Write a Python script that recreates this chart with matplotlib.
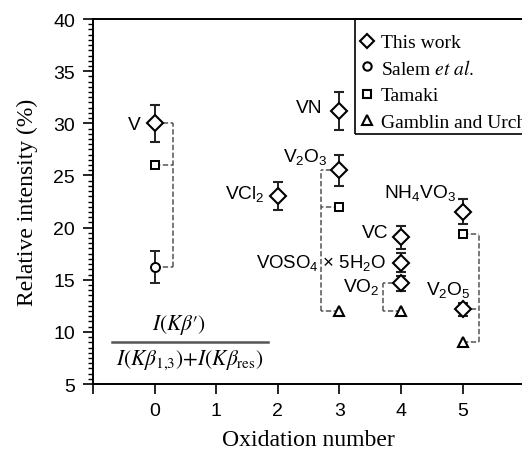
import matplotlib
matplotlib.use("Agg")
import matplotlib.pyplot as plt
from matplotlib.ticker import MultipleLocator, FixedLocator

# This work: measured relative intensities by oxidation number
tw_ox = [0, 2, 3, 3, 4, 4, 4, 5, 5]
tw_val = [30.0, 23.05, 31.2, 25.5, 19.05, 16.65, 14.65, 21.5, 12.15]
tw_err = [1.8, 1.35, 1.85, 1.5, 1.1, 0.95, 0.75, 1.2, 0.65]
tw_names = ["V", r"VCl$_2$", "VN", r"V$_2$O$_3$", "VC",
            r"VOSO$_4$ × 5H$_2$O", r"VO$_2$", r"NH$_4$VO$_3$", r"V$_2$O$_5$"]

# Literature values
salem_ox = [0]
salem_val = [16.25]
salem_err = [1.55]
tamaki_ox = [0, 3, 5]
tamaki_val = [26.0, 22.0, 19.4]
gamblin_ox = [3, 4, 5]
gamblin_val = [12.0, 12.0, 9.0]

x_ticks = [-1, 0, 1, 2, 3, 4, 5]
x_ticklabels = ["", "0", "1", "2", "3", "4", "5"]

plt.rcParams["font.family"] = "Liberation Sans"
plt.rcParams["mathtext.fontset"] = "custom"
plt.rcParams["mathtext.rm"] = "Liberation Sans"
plt.rcParams["mathtext.it"] = "Liberation Sans:italic"
plt.rcParams["mathtext.bf"] = "Liberation Sans:bold"

fig = plt.figure(figsize=(5.22, 4.52), dpi=100)
ax = fig.add_axes([0.1782, 0.1482, 0.8262, 0.8075])

ax.set_xlim(-1, 6)
ax.set_ylim(5, 40)

# dashed brackets linking a compound's value across data sets
dash = dict(color="#555555", lw=1.1, ls=(0, (3.5, 1.6)), zorder=1)


def bracket(xb, pts):
    ys = [p[1] for p in pts]
    ax.plot([xb, xb], [min(ys), max(ys)], **dash)
    for px, py in pts:
        ax.plot([px, xb], [py, py], **dash)


bracket(0.3, [(tw_ox[0], tw_val[0]), (tamaki_ox[0], tamaki_val[0]),
              (salem_ox[0], salem_val[0])])
bracket(2.7, [(tw_ox[3], tw_val[3]), (tamaki_ox[1], tamaki_val[1]),
              (gamblin_ox[0], gamblin_val[0])])
bracket(3.7, [(tw_ox[6], tw_val[6]), (gamblin_ox[1], gamblin_val[1])])
bracket(5.27, [(tamaki_ox[2], tamaki_val[2]), (tw_ox[8], tw_val[8]),
               (gamblin_ox[2], gamblin_val[2])])

ebar = dict(ls="none", ecolor="#222222", elinewidth=1.4, capsize=3.4,
            capthick=1.4, mfc="white", mec="black", zorder=3)
ax.errorbar(tw_ox, tw_val, yerr=tw_err, marker="D", ms=7.8, mew=1.5, **ebar)
ax.errorbar(salem_ox, salem_val, yerr=salem_err, marker="o", ms=6.5, mew=1.4, **ebar)
ax.plot(tamaki_ox, tamaki_val, ls="none", marker="s", ms=6.2, mew=1.4,
        mfc="white", mec="black", zorder=3)
ax.plot(gamblin_ox, gamblin_val, ls="none", marker="^", ms=7, mew=1.5,
        mfc="white", mec="black", zorder=3)

# compound labels
lab = dict(fontsize=13.8, va="baseline", math_fontfamily="custom")
ax.text(-0.22, 29.45, tw_names[0], ha="right", **lab)
ax.text(1.79, 22.8, tw_names[1], ha="right", **lab)
ax.text(2.73, 31.05, tw_names[2], ha="right", **lab)
ax.text(2.08, 26.4, tw_names[3], ha="left", **lab)
ax.text(3.79, 19.06, tw_names[4], ha="right", **lab)
ax.text(3.76, 16.2, tw_names[5], ha="right", fontsize=13.4, va="baseline",
        math_fontfamily="custom")
ax.text(3.65, 13.95, tw_names[6], ha="right", **lab)
ax.text(3.73, 22.9, tw_names[7], ha="left", **lab)
ax.text(4.41, 13.6, tw_names[8], ha="left", **lab)

# definition of the plotted ratio
frac = dict(fontsize=15.5, ha="center", va="center", math_fontfamily="stix",
            family="Liberation Serif")
ax.text(0.4, 10.75, r"$I(K\beta\prime)$", **frac)
ax.plot([-0.70, 1.84], [9.0, 9.0], color="#555555", lw=1.8)
ax.text(0.57, 7.4, r"$I(K\beta_{1{,}3}){+}I(K\beta_{\rm res})$", **frac)

# legend box
ax.add_patch(plt.Rectangle((3.25, 28.97), 3.0, 11.03, fill=False,
                           ec="black", lw=1.2, clip_on=False, zorder=4))
leg_rows = [37.9, 35.45, 32.85, 30.3]
leg_marks = [("D", 7.5), ("o", 6.0), ("s", 6.0), ("^", 7.0)]
leg_text = ["This work", r"Salem $\it{et\ al.}$", "Tamaki", "Gamblin and Urch"]
for yy, (mk, ms), txt in zip(leg_rows, leg_marks, leg_text):
    ax.plot([3.44], [yy], marker=mk, ms=ms, mew=1.5, mfc="white", mec="black",
            ls="none", clip_on=False, zorder=5)
    ax.text(3.67, yy, txt, fontsize=14, family="Liberation Serif",
            math_fontfamily="stix", va="center_baseline", ha="left")

ax.spines["right"].set_visible(False)
for s in ["left", "bottom", "top"]:
    ax.spines[s].set_linewidth(1.4)

ax.xaxis.set_major_locator(FixedLocator(x_ticks))
ax.set_xticklabels(x_ticklabels)
ax.yaxis.set_major_locator(MultipleLocator(5))
ax.yaxis.set_minor_locator(MultipleLocator(0.5))
ax.tick_params(axis="both", which="major", direction="out", length=7,
               width=1.2, labelsize=14, pad=6)
ax.tick_params(axis="y", which="minor", direction="out", length=3.3, width=1.0)
ax.tick_params(axis="x", which="minor", bottom=False)

ax.set_xlabel("Oxidation number", family="Liberation Serif", fontsize=17,
              labelpad=7)
ax.set_ylabel("Relative intensity (%)", family="Liberation Serif", fontsize=17,
              labelpad=11)

fig.savefig("out.png", dpi=100)
